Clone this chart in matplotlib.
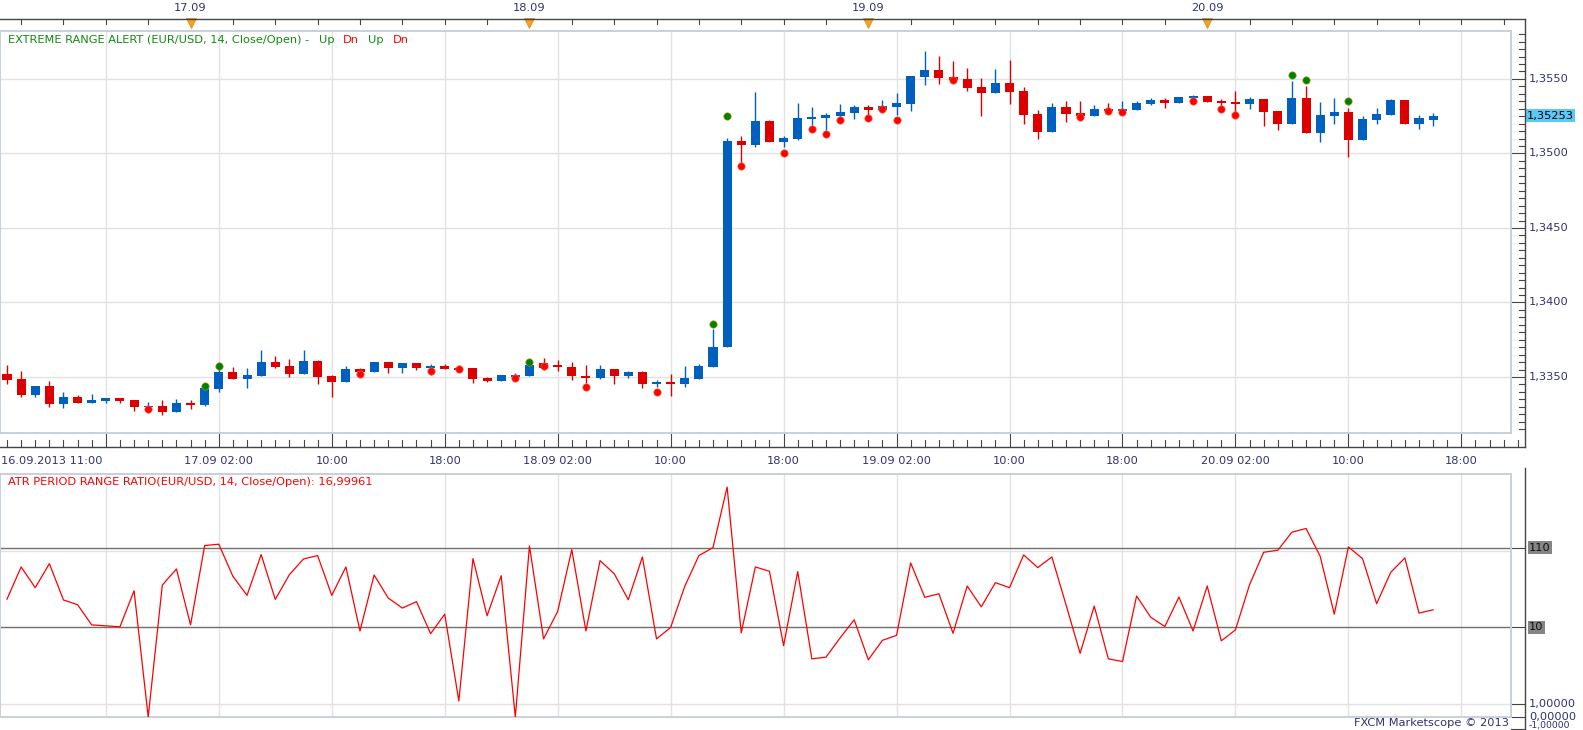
import numpy as np
import pandas as pd
import matplotlib
matplotlib.use('Agg')
import matplotlib.pyplot as plt
import matplotlib.transforms as mtransforms

# hourly EUR/USD candles, 16.09.2013 11:00 onwards
start_time = '2013-09-16 11:00'

opens = [1.33520, 1.33487, 1.33381, 1.33440, 1.33321, 1.33366, 1.33328, 1.33341, 1.33359, 1.33346,
         1.33301, 1.33305, 1.33265, 1.33328, 1.33314, 1.33422, 1.33534, 1.33489, 1.33509, 1.33601,
         1.33574, 1.33522, 1.33607, 1.33507, 1.33469, 1.33554, 1.33534, 1.33601, 1.33563, 1.33594,
         1.33563, 1.33574, 1.33560, 1.33560, 1.33491, 1.33475, 1.33502, 1.33507, 1.33596, 1.33581,
         1.33565, 1.33507, 1.33496, 1.33554, 1.33509, 1.33534, 1.33455, 1.33469, 1.33455, 1.33489,
         1.33569, 1.33701, 1.35084, 1.35059, 1.35218, 1.35079, 1.35097, 1.35231, 1.35240, 1.35254,
         1.35274, 1.35312, 1.35294, 1.35314, 1.35334, 1.35516, 1.35560, 1.35513, 1.35500, 1.35446,
         1.35408, 1.35473, 1.35419, 1.35265, 1.35146, 1.35312, 1.35272, 1.35254, 1.35299, 1.35285,
         1.35292, 1.35332, 1.35359, 1.35339, 1.35372, 1.35386, 1.35352, 1.35346, 1.35332, 1.35366,
         1.35285, 1.35198, 1.35372, 1.35137, 1.35252, 1.35278, 1.35091, 1.35225, 1.35258, 1.35359,
         1.35198, 1.35224]
highs = [1.33581, 1.33540, 1.33440, 1.33473, 1.33399, 1.33379, 1.33386, 1.33359, 1.33359, 1.33346,
         1.33332, 1.33346, 1.33352, 1.33346, 1.33428, 1.33601, 1.33567, 1.33560, 1.33681, 1.33641,
         1.33621, 1.33681, 1.33614, 1.33513, 1.33574, 1.33560, 1.33601, 1.33601, 1.33594, 1.33594,
         1.33589, 1.33589, 1.33583, 1.33560, 1.33500, 1.33513, 1.33527, 1.33581, 1.33628, 1.33614,
         1.33601, 1.33581, 1.33581, 1.33554, 1.33538, 1.33538, 1.33480, 1.33520, 1.33574, 1.33587,
         1.33822, 1.35104, 1.35117, 1.35413, 1.35225, 1.35117, 1.35339, 1.35312, 1.35272, 1.35332,
         1.35325, 1.35325, 1.35359, 1.35406, 1.35520, 1.35688, 1.35654, 1.35621, 1.35574, 1.35507,
         1.35567, 1.35627, 1.35446, 1.35292, 1.35339, 1.35352, 1.35352, 1.35325, 1.35339, 1.35352,
         1.35352, 1.35372, 1.35372, 1.35379, 1.35393, 1.35386, 1.35366, 1.35419, 1.35379, 1.35366,
         1.35285, 1.35486, 1.35453, 1.35346, 1.35372, 1.35305, 1.35252, 1.35305, 1.35366, 1.35359,
         1.35258, 1.35272]
lows = [1.33455, 1.33368, 1.33368, 1.33301, 1.33294, 1.33328, 1.33328, 1.33328, 1.33328, 1.33274,
        1.33261, 1.33247, 1.33265, 1.33285, 1.33305, 1.33402, 1.33489, 1.33428, 1.33509, 1.33560,
        1.33502, 1.33522, 1.33455, 1.33368, 1.33469, 1.33534, 1.33534, 1.33529, 1.33529, 1.33547,
        1.33516, 1.33556, 1.33540, 1.33462, 1.33469, 1.33475, 1.33480, 1.33507, 1.33547, 1.33543,
        1.33482, 1.33457, 1.33489, 1.33453, 1.33496, 1.33428, 1.33435, 1.33375, 1.33435, 1.33489,
        1.33569, 1.33701, 1.34930, 1.35046, 1.35079, 1.35046, 1.35090, 1.35191, 1.35158, 1.35247,
        1.35234, 1.35258, 1.35294, 1.35258, 1.35287, 1.35462, 1.35469, 1.35475, 1.35422, 1.35254,
        1.35408, 1.35334, 1.35200, 1.35099, 1.35146, 1.35214, 1.35240, 1.35254, 1.35270, 1.35270,
        1.35292, 1.35325, 1.35305, 1.35339, 1.35337, 1.35346, 1.35314, 1.35281, 1.35299, 1.35184,
        1.35158, 1.35198, 1.35137, 1.35079, 1.35198, 1.34979, 1.35091, 1.35198, 1.35258, 1.35198,
        1.35164, 1.35184]
closes = [1.33482, 1.33381, 1.33440, 1.33321, 1.33366, 1.33328, 1.33346, 1.33359, 1.33341, 1.33301,
          1.33308, 1.33265, 1.33326, 1.33314, 1.33428, 1.33534, 1.33489, 1.33513, 1.33601, 1.33569,
          1.33522, 1.33607, 1.33502, 1.33469, 1.33554, 1.33534, 1.33601, 1.33560, 1.33594, 1.33563,
          1.33574, 1.33556, 1.33547, 1.33489, 1.33475, 1.33513, 1.33513, 1.33581, 1.33558, 1.33565,
          1.33504, 1.33496, 1.33554, 1.33509, 1.33534, 1.33455, 1.33469, 1.33455, 1.33491, 1.33574,
          1.33701, 1.35084, 1.35059, 1.35218, 1.35079, 1.35104, 1.35238, 1.35245, 1.35258, 1.35278,
          1.35312, 1.35294, 1.35319, 1.35339, 1.35520, 1.35560, 1.35509, 1.35495, 1.35442, 1.35408,
          1.35473, 1.35415, 1.35261, 1.35146, 1.35312, 1.35267, 1.35250, 1.35299, 1.35285, 1.35299,
          1.35339, 1.35359, 1.35339, 1.35379, 1.35386, 1.35346, 1.35339, 1.35332, 1.35366, 1.35278,
          1.35198, 1.35372, 1.35137, 1.35258, 1.35278, 1.35091, 1.35231, 1.35265, 1.35359, 1.35198,
          1.35238, 1.35253]

# extreme range alert signals
up_idx = [14, 15, 37, 50, 51, 91, 92, 95]
up_price = [1.33440, 1.33574, 1.33603, 1.33858, 1.35254, 1.35529, 1.35493, 1.35352]
dn_idx = [10, 25, 30, 32, 36, 38, 41, 46, 52, 55, 57, 58, 59, 61, 62, 63, 67, 76, 78, 79, 84, 86, 87]
dn_price = [1.33283, 1.33518, 1.33543, 1.33556, 1.33493, 1.33574, 1.33433, 1.33399, 1.34918, 1.35006,
            1.35167, 1.35133, 1.35227, 1.35240, 1.35299, 1.35227, 1.35493, 1.35245, 1.35285, 1.35278,
            1.35352, 1.35299, 1.35258]

# ATR period range ratio
atr_ratio = [23.4, 61.5, 33.0, 67.9, 22.8, 19.8, 10.8, 10.5, 10.2, 30.1,
             0.0, 35.7, 57.9, 10.8, 116.8, 121.6, 46.4, 26.2, 89.1, 23.2,
             48.8, 78.2, 86.4, 26.2, 61.5, 9.0, 48.3, 24.2, 17.9, 21.7,
             8.3, 14.9, 1.1, 79.0, 14.2, 47.3, 0.0, 115.6, 7.1, 16.2,
             103.5, 9.0, 74.3, 50.3, 23.0, 83.0, 7.1, 10.0, 34.4, 86.4,
             110.0, 676.0, 8.5, 61.5, 54.0, 5.8, 53.4, 3.9, 4.1, 7.3,
             12.6, 3.8, 6.8, 7.9, 69.3, 24.7, 27.5, 8.4, 34.7, 18.6,
             38.4, 33.0, 88.2, 60.3, 83.0, 19.8, 4.6, 19.0, 3.9, 3.6,
             25.7, 13.6, 10.3, 24.9, 9.0, 34.7, 6.7, 9.3, 36.1, 95.5,
             101.5, 174.6, 195.0, 84.7, 14.9, 112.2, 79.0, 20.4, 52.4, 80.5,
             15.4, 16.99961]

price_ticks = [1.3350, 1.3400, 1.3450, 1.3500, 1.3550]
price_labels = ['1,3350', '1,3400', '1,3450', '1,3500', '1,3550']
last_price = 1.35253
last_label = '1,35253'

time_tick_at = ['2013-09-17 02:00', '2013-09-17 10:00', '2013-09-17 18:00',
                '2013-09-18 02:00', '2013-09-18 10:00', '2013-09-18 18:00',
                '2013-09-19 02:00', '2013-09-19 10:00', '2013-09-19 18:00',
                '2013-09-20 02:00', '2013-09-20 10:00', '2013-09-20 18:00']
time_tick_text = ['17.09 02:00', '10:00', '18:00', '18.09 02:00', '10:00', '18:00',
                  '19.09 02:00', '10:00', '18:00', '20.09 02:00', '10:00', '18:00']
first_label = '16.09.2013 11:00'
day_at = ['2013-09-17 00:00', '2013-09-18 00:00', '2013-09-19 00:00', '2013-09-20 00:00']
day_text = ['17.09', '18.09', '19.09', '20.09']

ratio_lines = [110, 10]
ratio_labels = ['110', '10']
ratio_small = [1, 0]
ratio_small_labels = ['1,00000', '0,00000']

# colours
BLUE = '#0060C0'
RED = '#DD0000'
NAVY = '#2E3272'
GRID = '#E2E2E2'
FRAME = '#C8D0DA'
DARK = '#454545'

W, H = 1583, 730
fs = 8.2


def fx(x):
    return x / W


def fy(y):
    return 1 - y / H


fig = plt.figure(figsize=(W / 100, H / 100), dpi=100)
fig.patch.set_facecolor('white')

# price panel and indicator panel (pixel layout)
ax1 = fig.add_axes([0, fy(433), 1511 / W, (433 - 31) / H])
ax2 = fig.add_axes([0, fy(717), 1511 / W, (717 - 474) / H])

times = pd.date_range(start_time, periods=len(opens), freq='h')


def hour_pos(ts):
    return (pd.Timestamp(ts) - times[0]) / pd.Timedelta(hours=1)


step = 14.12
xmin = -7 / step
xmax = xmin + 1511 / step
x = np.arange(len(opens))
o = np.array(opens)
h = np.array(highs)
l = np.array(lows)
c = np.array(closes)

for ax in (ax1, ax2):
    ax.set_xlim(xmin, xmax)
    ax.set_xticks([])
    ax.set_yticks([])
    for s in ax.spines.values():
        s.set_color(FRAME)
        s.set_linewidth(1.4)
    # vertical grid every 8 hours (02, 10, 18)
    for k in range(-1, 110):
        if (times[0].hour + k) % 8 == 2 and xmin < k < xmax:
            ax.axvline(k, color=GRID, lw=1.0, zorder=0)

# ---- candles ----
ax1.set_ylim(1.3350 - 56 * 0.0000671, 1.3350 + 346 * 0.0000671)
for p in price_ticks:
    ax1.axhline(p, color=GRID, lw=1.0, zorder=0)

bull = c >= o
cols = np.where(bull, BLUE, RED)
ax1.vlines(x, l, h, colors=cols, lw=1.0, zorder=2)
body_h = np.maximum(np.abs(c - o), 0.00004)
ax1.bar(x, body_h, bottom=np.minimum(o, c), width=0.64, color=cols, linewidth=0, zorder=3)

ax1.scatter(up_idx, up_price, s=28, color='#008000', edgecolors='#9C9A10', linewidths=0.5, zorder=5)
ax1.scatter(dn_idx, dn_price, s=28, color='#FF0000', edgecolors='#FF5A3C', linewidths=0.5, zorder=5)

# legend text with coloured pieces
r = fig.canvas.get_renderer()
pieces = [('EXTREME RANGE ALERT (EUR/USD, 14, Close/Open) -', '#108A10', 0),
          ('Up', '#108A10', 10), ('Dn', '#FF0000', 8), ('Up', '#108A10', 9), ('Dn', '#FF0000', 9)]
xp = 8
for s, col, gap in pieces:
    xp += gap
    t = fig.text(fx(xp), fy(40), s, color=col, fontsize=fs, va='center', ha='left')
    xp = t.get_window_extent(r).x1

# ---- dark outer frame + ticks of price panel ----
figT = fig.transFigure
fig.add_artist(plt.Line2D([0, fx(1525)], [fy(19), fy(19)], color=DARK, lw=1.0, transform=figT))
fig.add_artist(plt.Line2D([fx(1525), fx(1525)], [fy(19), fy(447)], color=DARK, lw=1.0, transform=figT))
fig.add_artist(plt.Line2D([0, fx(1525)], [fy(447), fy(447)], color=DARK, lw=1.0, transform=figT))
fig.add_artist(plt.Line2D([fx(1525), fx(1525)], [fy(468), 0], color=DARK, lw=1.0, transform=figT))

tx = mtransforms.blended_transform_factory(ax1.transData, figT)
ty1 = mtransforms.blended_transform_factory(figT, ax1.transData)
ty2 = mtransforms.blended_transform_factory(figT, ax2.transData)
xlim_right = (1525 - 7) / step

# top time ticks every 3 hours
for k in range(0, 110):
    if (times[0].hour + k) % 3 == 0 and k <= xlim_right:
        ax1.plot([k, k], [fy(19), fy(24)], color=DARK, lw=0.8, transform=tx, clip_on=False)

# day markers
for d, s in zip(day_at, day_text):
    k = hour_pos(d)
    ax1.plot([k], [fy(23)], marker='v', ms=6.5, color='#F5A21E', mec='#D88A10', mew=0.5,
             transform=tx, clip_on=False)
    ax1.text(k, fy(8), s, transform=tx, ha='center', va='center', fontsize=fs, color=NAVY)

# bottom time ticks: hourly minor, 8-hourly major
for k in range(0, 110):
    if k > xlim_right:
        break
    top = 434 if (times[0].hour + k) % 8 == 2 else 440
    ax1.plot([k, k], [fy(top), fy(447)], color=DARK, lw=0.8, transform=tx, clip_on=False)

ax1.text(fx(1), fy(461), first_label, transform=figT, ha='left', va='center', fontsize=fs, color=NAVY)
for ts, s in zip(time_tick_at, time_tick_text):
    ax1.text(hour_pos(ts), fy(461), s, transform=tx, ha='center', va='center', fontsize=fs, color=NAVY)

# right price axis
ylo, yhi = ax1.get_ylim()
for m in range(int(np.ceil(ylo / 0.0005)), int(np.floor(yhi / 0.0005)) + 1):
    p = m * 0.0005
    major = m % 10 == 0
    ax1.plot([fx(1511 if major else 1519), fx(1525)], [p, p], color=DARK, lw=0.8,
             transform=ty1, clip_on=False)
for p, s in zip(price_ticks, price_labels):
    ax1.text(fx(1529), p, s, transform=ty1, ha='left', va='center', fontsize=fs, color=NAVY)
ax1.text(fx(1527), last_price, last_label, transform=ty1, ha='left', va='center', fontsize=fs,
         color='black', bbox=dict(boxstyle='square,pad=0.12', fc='#5BC8F5', ec='none'))

# ---- ATR ratio panel ----
ax2.set_yscale('symlog', linthresh=1, linscale=0.15)
ax2.set_ylim(0, 1000)
ax2.set_yticks([])
ax2.minorticks_off()
ax2.axhline(100, color=GRID, lw=1.0, zorder=0)
ax2.axhline(1, color=GRID, lw=1.0, zorder=0)
for v in ratio_lines:
    ax2.axhline(v, color='#707070', lw=1.0, zorder=1)
ax2.plot(x, atr_ratio, color='#FF0000', lw=0.9, zorder=3)

ax2.text(fx(8), fy(482), 'ATR PERIOD RANGE RATIO(EUR/USD, 14, Close/Open): 16,99961',
         transform=figT, ha='left', va='center', fontsize=fs, color='#FF0000')

for v, s in zip(ratio_lines, ratio_labels):
    ax2.plot([fx(1511), fx(1525)], [v, v], color=DARK, lw=0.8, transform=ty2, clip_on=False)
    ax2.text(fx(1529), v, s, transform=ty2, ha='left', va='center', fontsize=fs, color='#101010',
             bbox=dict(boxstyle='square,pad=0.12', fc='#858585', ec='none'))
for v, s in zip(ratio_small, ratio_small_labels):
    ax2.plot([fx(1511), fx(1525)], [v, v], color=DARK, lw=0.8, transform=ty2, clip_on=False)
    ax2.text(fx(1529), v, s, transform=ty2, ha='left', va='center', fontsize=fs, color=NAVY)
# the -1 label sits at the very bottom edge, as in the original
ax2.plot([fx(1511), fx(1525)], [fy(729), fy(729)], color=DARK, lw=0.8, transform=figT, clip_on=False)
ax2.text(fx(1529), fy(730), '-1,00000', transform=figT, ha='left', va='bottom', fontsize=fs - 1.5,
         color=NAVY)

fig.text(fx(1509), fy(723), 'FXCM Marketscope \u00a9 2013', ha='right', va='center',
         fontsize=fs, color=NAVY)

fig.savefig('out.png', dpi=100, facecolor='white')
